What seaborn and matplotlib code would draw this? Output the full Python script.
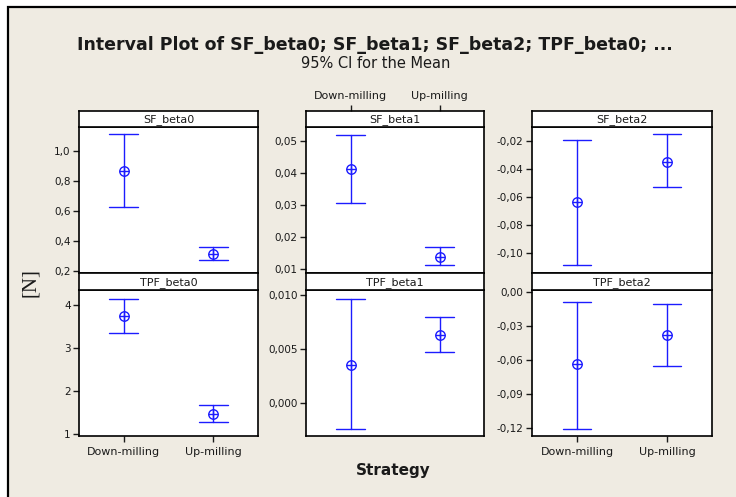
import pandas as pd
import matplotlib
matplotlib.use("Agg")
import matplotlib.pyplot as plt
import seaborn as sns
from matplotlib.patches import Rectangle
from matplotlib.ticker import FuncFormatter

# Data: 95% CI for the mean, per strategy
strategies = ["Down-milling", "Up-milling"]
panels = ["SF_beta0", "SF_beta1", "SF_beta2", "TPF_beta0", "TPF_beta1", "TPF_beta2"]

sf_beta0_mean = [0.869, 0.311]
sf_beta0_lo = [0.629, 0.269]
sf_beta0_hi = [1.111, 0.356]

sf_beta1_mean = [0.0412, 0.0138]
sf_beta1_lo = [0.0307, 0.0112]
sf_beta1_hi = [0.0520, 0.0168]

sf_beta2_mean = [-0.0636, -0.0346]
sf_beta2_lo = [-0.1085, -0.0526]
sf_beta2_hi = [-0.0191, -0.0152]

tpf_beta0_mean = [3.75, 1.46]
tpf_beta0_lo = [3.34, 1.28]
tpf_beta0_hi = [4.14, 1.67]

tpf_beta1_mean = [0.00354, 0.00630]
tpf_beta1_lo = [-0.00242, 0.00475]
tpf_beta1_hi = [0.00963, 0.00797]

tpf_beta2_mean = [-0.0638, -0.0377]
tpf_beta2_lo = [-0.1212, -0.0650]
tpf_beta2_hi = [-0.0083, -0.0104]

# y-axis setup per panel: limits, ticks, decimals
ylims = [(0.185, 1.16), (0.00884, 0.0544), (-0.114, -0.0100),
         (0.946, 4.35), (-0.00307, 0.01046), (-0.1275, 0.002)]
yticks = [[0.2, 0.4, 0.6, 0.8, 1.0], [0.01, 0.02, 0.03, 0.04, 0.05],
          [-0.10, -0.08, -0.06, -0.04, -0.02], [1, 2, 3, 4],
          [0.0, 0.005, 0.010], [-0.12, -0.09, -0.06, -0.03, 0.0]]
ydec = [1, 2, 2, 0, 3, 2]

series = [
    (sf_beta0_lo, sf_beta0_mean, sf_beta0_hi),
    (sf_beta1_lo, sf_beta1_mean, sf_beta1_hi),
    (sf_beta2_lo, sf_beta2_mean, sf_beta2_hi),
    (tpf_beta0_lo, tpf_beta0_mean, tpf_beta0_hi),
    (tpf_beta1_lo, tpf_beta1_mean, tpf_beta1_hi),
    (tpf_beta2_lo, tpf_beta2_mean, tpf_beta2_hi),
]

sns.set_style("white")
plt.rcParams["font.family"] = ["DejaVu Sans"]
plt.rcParams["axes.unicode_minus"] = False

W, H = 736, 497
blue = "#1c1cff"
beige = "#efebe2"
txt = "#1a1a1a"

fig = plt.figure(figsize=(W / 100, H / 100), dpi=100, facecolor="white")
fig.add_artist(Rectangle((8 / W, -0.05), 1.1, 1 - 7 / H + 0.05,
                         transform=fig.transFigure, facecolor=beige,
                         edgecolor="black", lw=1.6, zorder=-10))


def rect(x0, y0, x1, y1):
    return [x0 / W, 1 - y1 / H, (x1 - x0) / W, (y1 - y0) / H]


cols = [(79, 258), (306, 484), (532, 712)]
rows = [((111, 127), (127, 273)), ((273, 290), (290, 436))]


def make_fmt(d):
    return FuncFormatter(lambda v, p: f"{v:.{d}f}".replace(".", ","))


for i, name in enumerate(panels):
    r, c = divmod(i, 3)
    (s0, s1), (p0, p1) = rows[r]
    x0, x1 = cols[c]

    lo, mean, hi = series[i]
    df = pd.DataFrame({
        "Strategy": strategies * 3,
        "value": list(lo) + list(mean) + list(hi),
        "kind": ["lo"] * 2 + ["mean"] * 2 + ["hi"] * 2,
    })

    ax = fig.add_axes(rect(x0, p0, x1, p1))
    ax.set_facecolor("white")
    # median of (lo, mean, hi) = mean; 100% percentile interval = lo..hi
    sns.pointplot(data=df, x="Strategy", y="value", order=strategies,
                  estimator="median", errorbar=("pi", 100), color=blue,
                  marker="o", markersize=6.8, markerfacecolor="none",
                  markeredgewidth=1.0, linestyle="none", capsize=0.32,
                  err_kws={"linewidth": 1.0}, ax=ax)
    sns.pointplot(data=df[df["kind"] == "mean"], x="Strategy", y="value",
                  order=strategies, errorbar=None, color=blue, marker="+",
                  markersize=6.8, markeredgewidth=1.0, linestyle="none", ax=ax)
    ax.set_xlim(-0.5, 1.5)
    ax.set_ylim(*ylims[i])
    ax.set_yticks(yticks[i])
    ax.yaxis.set_major_formatter(make_fmt(ydec[i]))
    ax.set_xlabel("")
    ax.set_ylabel("")
    for sp in ax.spines.values():
        sp.set_color("black")
        sp.set_linewidth(1.2)
    ax.tick_params(axis="y", left=True, direction="out", length=4, width=1,
                   labelsize=7.5, pad=2, colors=txt)
    if r == 1 and c != 1:
        ax.tick_params(axis="x", bottom=True, direction="out", length=4,
                       width=1, labelsize=8, pad=4, colors=txt)
    else:
        ax.tick_params(axis="x", bottom=False, labelbottom=False)

    # strip header
    sax = fig.add_axes(rect(x0, s0, x1, s1))
    sax.set_facecolor("white")
    sax.set_xlim(-0.5, 1.5)
    sax.set_yticks([])
    for sp in sax.spines.values():
        sp.set_color("black")
        sp.set_linewidth(1.2)
    sax.text(0.5, 0.45, name, transform=sax.transAxes, ha="center",
             va="center", fontsize=8, color=txt)
    if r == 0 and c == 1:
        sax.set_xticks([0, 1])
        sax.set_xticklabels(strategies)
        sax.tick_params(axis="x", top=True, labeltop=True, bottom=False,
                        labelbottom=False, direction="out", length=4,
                        width=1, labelsize=8, pad=3, colors=txt)
    else:
        sax.set_xticks([])

fig.text(375 / W, 1 - 45 / H,
         "Interval Plot of SF_beta0; SF_beta1; SF_beta2; TPF_beta0; ...",
         ha="center", va="center", fontsize=12.5, fontweight="bold", color=txt)
fig.text(376 / W, 1 - 64 / H, "95% CI for the Mean", ha="center",
         va="center", fontsize=10.5, color=txt)
fig.text(393 / W, 1 - 470 / H, "Strategy", ha="center", va="center",
         fontsize=11, fontweight="bold", color=txt)
fig.text(30 / W, 1 - 283 / H, "[N]", ha="center", va="center", rotation=90,
         fontsize=15, family=["Liberation Serif"], color=txt)

fig.savefig("out.png", dpi=100, facecolor=fig.get_facecolor())
